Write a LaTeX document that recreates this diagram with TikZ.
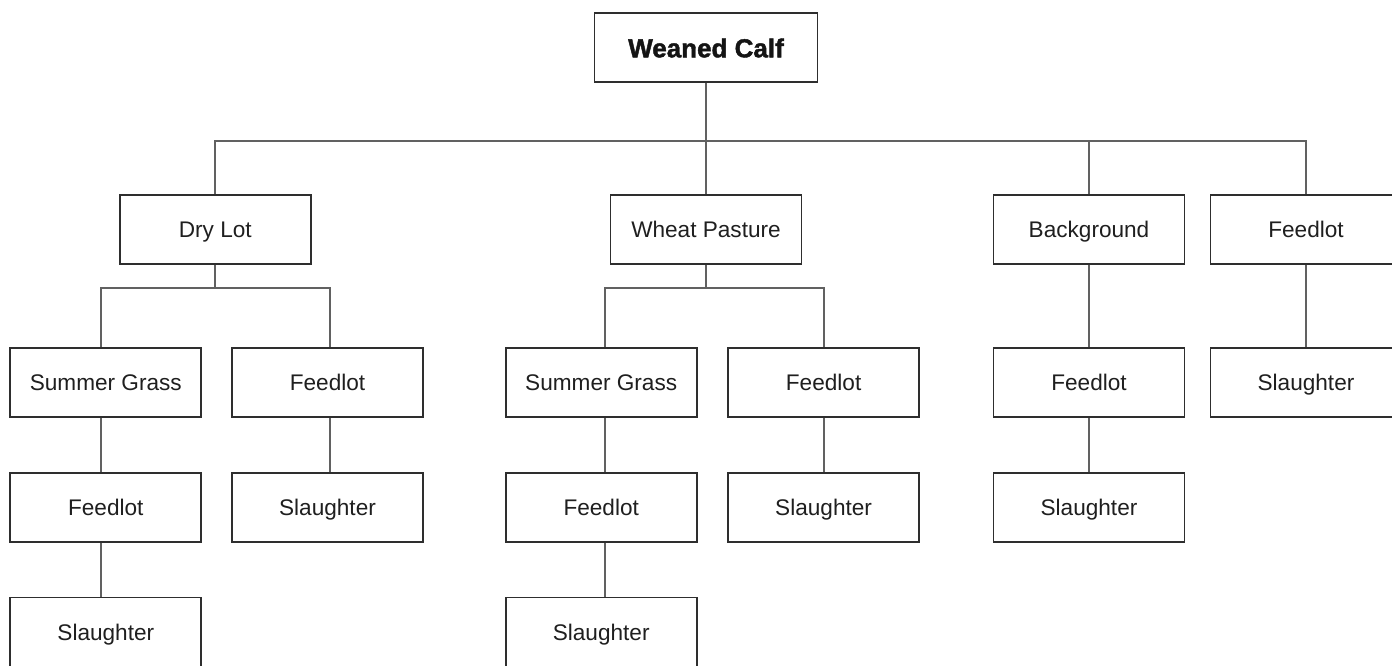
\documentclass[tikz,border=0pt]{standalone}
\usepackage{fontspec}
\setmainfont{Liberation Sans}
\newfontfamily\heavyfont[FakeBold=1.6]{Liberation Sans Bold}
\begin{document}
\begin{tikzpicture}[x=1pt,y=-1pt,
  box/.style={draw=black!82, line width=1.8pt, fill=white, minimum width=191pt, minimum height=69pt, inner sep=0pt, text=black!88, text height=16pt, text depth=0pt, font=\fontsize{22.6}{25}\selectfont},
  rootbox/.style={box, minimum width=223pt, text height=19pt, text=black!92, font=\heavyfont\fontsize{26}{29}\selectfont},
  link/.style={draw=black!62, line width=1.9pt}]
\useasboundingbox (0,0) rectangle (1392,665);
% nodes
\node[rootbox] (root) at (706,47.8) {Weaned Calf};
\node[box] (dry) at (215.3,229.3) {Dry Lot};
\node[box] (wheat) at (706,229.3) {Wheat Pasture};
\node[box] (bg) at (1089,229.3) {Background};
\node[box] (fl) at (1306,229.3) {Feedlot};
\node[box] (dsg) at (105.8,382.8) {Summer Grass};
\node[box] (dfl) at (327.5,382.8) {Feedlot};
\node[box] (dsgfl) at (105.8,507.3) {Feedlot};
\node[box] (dflsl) at (327.5,507.3) {Slaughter};
\node[box] (dsgflsl) at (105.8,632) {Slaughter};
\node[box] (wsg) at (601.2,382.8) {Summer Grass};
\node[box] (wfl) at (823.6,382.8) {Feedlot};
\node[box] (wsgfl) at (601.2,507.3) {Feedlot};
\node[box] (wflsl) at (823.6,507.3) {Slaughter};
\node[box] (wsgflsl) at (601.2,632) {Slaughter};
\node[box] (bgfl) at (1089,382.8) {Feedlot};
\node[box] (bgflsl) at (1089,507.3) {Slaughter};
\node[box] (flsl) at (1306,382.8) {Slaughter};
% bus points
\coordinate (b0) at (706,140.7);
\coordinate (bd) at (215.3,287.7);
\coordinate (bw) at (706,287.7);
% connectors
\draw[link] (root) -- (b0);
\draw[link] (b0) -| (dry);
\draw[link] (b0) -- (wheat);
\draw[link] (b0) -| (bg);
\draw[link] (b0) -| (fl);
\draw[link] (dry) -- (bd);
\draw[link] (bd) -| ([xshift=-5pt]dsg.north);
\draw[link] (bd) -| ([xshift=2.5pt]dfl.north);
\draw[link] ([xshift=-5pt]dsg.south) -- ([xshift=-5pt]dsgfl.north);
\draw[link] ([xshift=-5pt]dsgfl.south) -- ([xshift=-5pt]dsgflsl.north);
\draw[link] ([xshift=2.5pt]dfl.south) -- ([xshift=2.5pt]dflsl.north);
\draw[link] (wheat) -- (bw);
\draw[link] (bw) -| ([xshift=3.8pt]wsg.north);
\draw[link] (bw) -| (wfl);
\draw[link] ([xshift=3.8pt]wsg.south) -- ([xshift=3.8pt]wsgfl.north);
\draw[link] ([xshift=3.8pt]wsgfl.south) -- ([xshift=3.8pt]wsgflsl.north);
\draw[link] (wfl) -- (wflsl);
\draw[link] (bg) -- (bgfl);
\draw[link] (bgfl) -- (bgflsl);
\draw[link] (fl) -- (flsl);
\end{tikzpicture}
\end{document}
